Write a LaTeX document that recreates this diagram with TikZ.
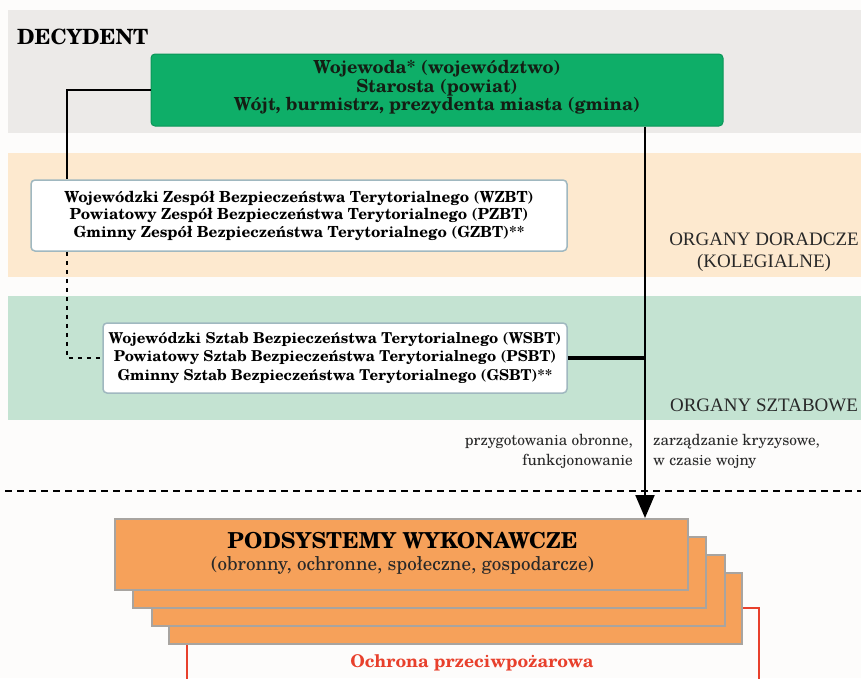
\documentclass[tikz,border=0pt]{standalone}
\usepackage{fontspec}
\setmainfont{texgyreschola}[Extension=.otf, UprightFont=*-regular, BoldFont=*-bold, ItalicFont=*-italic, BoldItalicFont=*-bolditalic]
\newfontfamily\timesf{Liberation Serif}
\usetikzlibrary{arrows.meta}
\definecolor{pagebg}{RGB}{253,252,251}
\definecolor{bandgray}{RGB}{236,234,232}
\definecolor{bandorange}{RGB}{253,233,207}
\definecolor{bandgreen}{RGB}{196,227,210}
\definecolor{decgreen}{RGB}{14,174,104}
\definecolor{decgreenline}{RGB}{10,150,88}
\definecolor{boxline}{RGB}{160,184,192}
\definecolor{podfill}{RGB}{246,161,90}
\definecolor{podline}{RGB}{168,164,160}
\definecolor{firered}{RGB}{232,64,44}
\definecolor{labelgray}{RGB}{40,40,40}
\definecolor{dectext}{RGB}{20,30,20}
\tikzset{
  band/.style={fill=#1, draw=none},
  decbox/.style={fill=decgreen, draw=decgreenline, line width=1pt, rounded corners=4pt,
    inner sep=0pt, align=center, text=dectext, font=\bfseries\fontsize{18}{18.5}\selectfont},
  orgbox/.style={fill=white, draw=boxline, line width=1.5pt, rounded corners=4pt,
    inner sep=0pt, align=center, font=\bfseries\fontsize{15.3}{17.5}\selectfont},
  podbox/.style={fill=podfill, draw=podline, line width=2pt, minimum width=573pt, minimum height=71pt, inner sep=0pt},
  conn/.style={line width=2.2pt, black},
  dotconn/.style={line width=2pt, black, dash pattern=on 4pt off 5pt},
  sidelabel/.style={font=\timesf\fontsize{19}{22}\selectfont, text=labelgray, align=center, inner sep=0pt},
  flowlabel/.style={font=\fontsize{15.3}{20}\selectfont, text=labelgray, inner sep=0pt},
}
\begin{document}
\begin{tikzpicture}[x=1pt,y=-1pt]
\clip (0,0) rectangle (861,678);
\fill[pagebg] (0,0) rectangle (861,678);
% bands
\fill[band=bandgray] (8,10) rectangle (861,133);
\fill[band=bandorange] (8,153) rectangle (861,277);
\fill[band=bandgreen] (8,296) rectangle (861,420);
% title
\node[anchor=base west, inner sep=0pt, font=\bfseries\fontsize{21}{24}\selectfont] (title) at (17,44) {DECYDENT};
% decision box
\node[decbox, minimum width=572pt, minimum height=72pt] (dec) at (437,90) {};
\node[inner sep=0pt, align=center, text=dectext, font=\bfseries\fontsize{18}{18.5}\selectfont] (dectxt) at (437,87.5)
  {Wojewoda* (województwo)\\Starosta (powiat)\\Wójt, burmistrz, prezydenta miasta (gmina)};
% advisory box
\node[orgbox, minimum width=536pt, minimum height=71pt] (zbt) at (299,215.5)
  {Wojewódzki Zespół Bezpieczeństwa Terytorialnego (WZBT)\\Powiatowy Zespół Bezpieczeństwa Terytorialnego (PZBT)\\Gminny Zespół Bezpieczeństwa Terytorialnego (GZBT)**};
% staff box
\node[orgbox, minimum width=464pt, minimum height=70pt, font=\bfseries\fontsize{15}{18.5}\selectfont] (sbt) at (335,358)
  {Wojewódzki Sztab Bezpieczeństwa Terytorialnego (WSBT)\\Powiatowy Sztab Bezpieczeństwa Terytorialnego (PSBT)\\Gminny Sztab Bezpieczeństwa Terytorialnego (GSBT)**};
% side labels
\node[sidelabel] (doradcze) at (764,252) {ORGANY DORADCZE\\(KOLEGIALNE)};
\node[sidelabel] (sztabowe) at (764,405) {ORGANY SZTABOWE};
% red frame (clipped at bottom)
\draw[firered, line width=2.5pt] (187,608) rectangle (759,720);
\node[font=\bfseries\fontsize{17.5}{20}\selectfont, text=firered, inner sep=0pt] (ochrona) at (472,663) {Ochrona przeciwpożarowa};
% stacked executive boxes
\node[podbox] (pod4) at (455.5,608.5) {};
\node[podbox] (pod3) at (438,590) {};
\node[podbox] (pod2) at (419.5,572.5) {};
\node[podbox] (pod1) at (401.5,554.5) {};
\node[font=\bfseries\fontsize{22}{24}\selectfont, inner sep=0pt] (podtitle) at (402.5,541) {PODSYSTEMY WYKONAWCZE};
\node[font=\fontsize{19}{21}\selectfont, text=labelgray, inner sep=0pt] (podsub) at (402.5,565) {(obronny, ochronne, społeczne, gospodarcze)};
% dashed separator
\coordinate (sepL) at (5,491);
\coordinate (sepR) at (861,491);
\draw[line width=2pt, black, dash pattern=on 7pt off 5pt] (sepL) -- (sepR);
% helper coordinates
\coordinate (leftx) at (67,0);
\coordinate (ax) at (645,0);
% connectors
\draw[conn] (dec.west) -| (zbt.north -| leftx);
\draw[dotconn] (zbt.south -| leftx) |- (sbt.west);
\draw[line width=3.5pt, black] (sbt.east) -- (sbt.east -| ax);
\draw[conn, -{Triangle[length=23pt, width=19pt]}] (dec.south -| ax) -- (pod1.north -| ax);
% flow labels
\node[flowlabel, anchor=base east] (fl1) at (633,445) {przygotowania obronne,};
\node[flowlabel, anchor=base east] (fl2) at (633,465) {funkcjonowanie};
\node[flowlabel, anchor=base west] (fr1) at (653,445) {zarządzanie kryzysowe,};
\node[flowlabel, anchor=base west] (fr2) at (653,465) {w czasie wojny};
\end{tikzpicture}
\end{document}
